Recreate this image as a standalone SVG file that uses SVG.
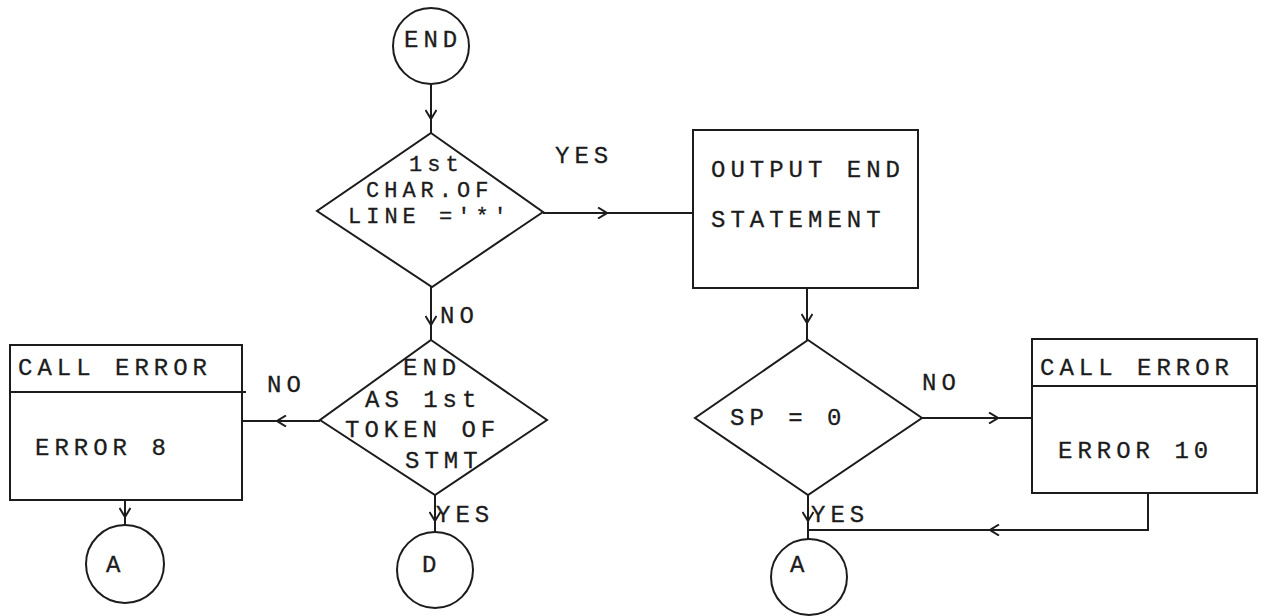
<svg xmlns="http://www.w3.org/2000/svg" width="1264" height="616" viewBox="0 0 1264 616">
  <style>
    .shape { fill: #fff; stroke: #1c1c1c; stroke-width: 2; }
    .rule { fill: none; stroke: #1c1c1c; stroke-width: 2; }
    .conn { fill: none; stroke: #1c1c1c; stroke-width: 2; }
    .arr { marker-mid: url(#vhead); }
    text { font-family: "Liberation Mono", "Courier New", monospace; font-size: 24px; letter-spacing: 5px; fill: #1c1c1c; stroke: #1c1c1c; stroke-width: 0.3px; }
    .tight { font-size: 22px; }
  </style>
  <defs>
    <!-- open typewriter-style "V" arrowhead placed partway along a connector -->
    <marker id="vhead" viewBox="0 0 10 12" refX="10" refY="6" markerWidth="10" markerHeight="12" markerUnits="userSpaceOnUse" orient="auto">
      <path d="M1,0.5 L10,6 L1,11.5" fill="none" stroke="#1c1c1c" stroke-width="2"/>
    </marker>
  </defs>
  <rect width="1264" height="616" fill="#fff"/>

  <!-- connectors -->
  <g id="connectors">
    <path class="conn arr" d="M431,84 L431,119 L431,133"/>
    <path class="conn arr" d="M543,213 L607,213 L693,213"/>
    <path class="conn arr" d="M431,287 L431,325 L431,340"/>
    <path class="conn arr" d="M320,421 L277,421 L242,421"/>
    <path class="conn arr" d="M125,500 L125,517 L125,525"/>
    <path class="conn arr" d="M435,495 L435,521 L435,532"/>
    <path class="conn arr" d="M807,288 L807,323 L807,340"/>
    <path class="conn arr" d="M922,418 L998,418 L1032,418"/>
    <path class="conn arr" d="M808,495 L808,521 L808,539"/>
    <path class="conn" d="M1148,493 L1148,530 L1100,530"/>
    <path class="conn arr" d="M1100,530 L990,530 L808,530"/>
  </g>

  <!-- start terminal -->
  <g id="end-terminal">
    <circle class="shape" cx="431" cy="46" r="38"/>
    <text x="404" y="47">END</text>
  </g>

  <!-- first decision -->
  <g id="first-char-check">
    <polygon class="shape" points="431,133 543,212 432,287 317,211"/>
    <text class="tight" x="409" y="171" letter-spacing="6">1st</text>
    <text class="tight" x="366" y="197" letter-spacing="6">CHAR.OF</text>
    <text class="tight" x="348" y="223" letter-spacing="8">LINE ='*'</text>
  </g>

  <!-- output process box -->
  <g id="output-end">
    <rect class="shape" x="693" y="130" width="225" height="158"/>
    <text x="711" y="177">OUTPUT END</text>
    <text x="711" y="227">STATEMENT</text>
  </g>

  <!-- second decision -->
  <g id="first-token-check">
    <polygon class="shape" points="431,340 547,420 435,495 320,420"/>
    <text x="403" y="375">END</text>
    <text x="365" y="407">AS 1st</text>
    <text x="345" y="437">TOKEN OF</text>
    <text x="405" y="468">STMT</text>
  </g>

  <!-- error 8 call -->
  <g id="error-8">
    <rect class="shape" x="10" y="345" width="232" height="155"/>
    <path class="rule" d="M10,392 L246,392"/>
    <text x="18" y="375">CALL ERROR</text>
    <text x="35" y="455">ERROR 8</text>
  </g>

  <!-- stack pointer decision -->
  <g id="sp-check">
    <polygon class="shape" points="808,340 922,418 808,495 695,418"/>
    <text x="730" y="425">SP = 0</text>
  </g>

  <!-- error 10 call -->
  <g id="error-10">
    <rect class="shape" x="1032" y="339" width="225" height="154"/>
    <path class="rule" d="M1032,386 L1257,386"/>
    <text x="1040" y="375">CALL ERROR</text>
    <text x="1058" y="458">ERROR 10</text>
  </g>

  <!-- off-page connectors -->
  <g id="connector-a-left">
    <circle class="shape" cx="125" cy="564" r="39"/>
    <text x="106" y="572">A</text>
  </g>
  <g id="connector-d">
    <circle class="shape" cx="435" cy="570" r="38"/>
    <text x="422" y="572">D</text>
  </g>
  <g id="connector-a-right">
    <circle class="shape" cx="809" cy="577" r="38"/>
    <text x="790" y="572">A</text>
  </g>

  <!-- branch labels -->
  <g id="labels">
    <text x="555" y="163">YES</text>
    <text x="440" y="323">NO</text>
    <text x="267" y="392">NO</text>
    <text x="436" y="522">YES</text>
    <text x="922" y="390">NO</text>
    <text x="811" y="522">YES</text>
  </g>
</svg>
